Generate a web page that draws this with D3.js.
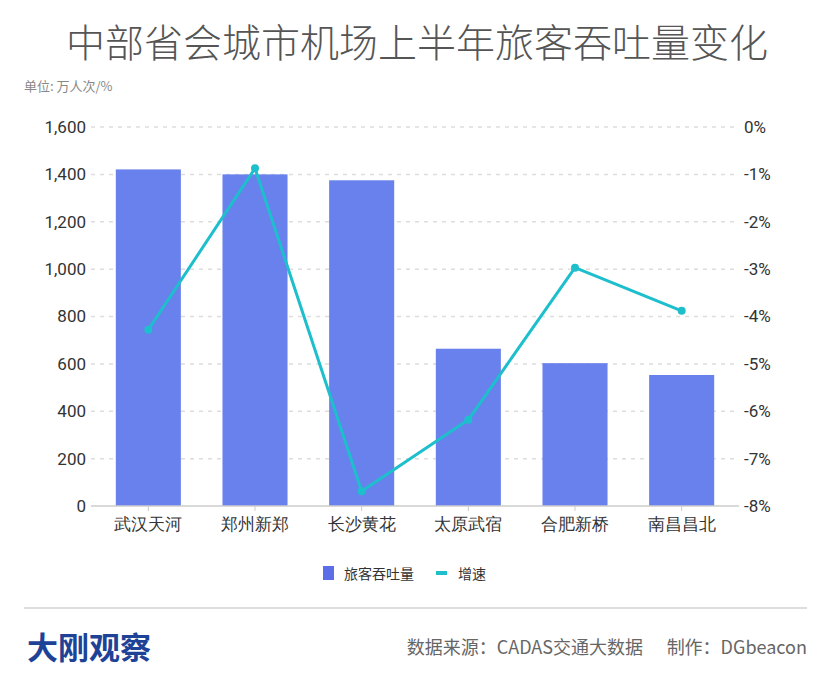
<!DOCTYPE html>
<html>
<head>
<meta charset="utf-8">
<script src="https://cdn.jsdelivr.net/npm/d3@7"></script>
<style>
  body { margin: 0; background: #fff; }
  svg { font-family: "Noto Sans CJK SC", "Noto Sans", sans-serif; }
</style>
</head>
<body>
<svg id="chart" width="832" height="684"></svg>
<script>
// data
const airports = ["武汉天河", "郑州新郑", "长沙黄花", "太原武宿", "合肥新桥", "南昌昌北"];
const passengers = [1421, 1400, 1375, 664, 603, 553];
const growth = [-4.28, -0.87, -7.69, -6.18, -2.97, -3.88];
const leftTicks = [0, 200, 400, 600, 800, 1000, 1200, 1400, 1600];
const rightTicks = [0, -1, -2, -3, -4, -5, -6, -7, -8];

const svg = d3.select("#chart");
const margin = {top: 127, left: 95, right: 97, bottom: 178};
const width = 832 - margin.left - margin.right;
const height = 684 - margin.top - margin.bottom;

const barColor = "#6981ec";
const lineColor = "#1dbfcc";

// title
svg.append("text")
    .attr("x", 417).attr("y", 57)
    .attr("text-anchor", "middle")
    .attr("font-size", 39)
    .attr("font-weight", 300)
    .attr("fill", "#555")
    .text("中部省会城市机场上半年旅客吞吐量变化");

svg.append("text")
    .attr("x", 24).attr("y", 91)
    .attr("font-size", 13)
    .attr("fill", "#888")
    .text("单位: 万人次/%");

const g = svg.append("g")
    .attr("transform", `translate(${margin.left},${margin.top})`);

const x = d3.scaleBand()
    .domain(airports)
    .range([0, width])
    .paddingInner(0.39)
    .paddingOuter(0.195);

const yLeft = d3.scaleLinear().domain([0, 1600]).range([height, 0]);
const yRight = d3.scaleLinear().domain([-8, 0]).range([height, 0]);

// gridlines
g.selectAll(".grid")
    .data(leftTicks.filter(d => d > 0))
    .enter().append("line")
    .attr("class", "grid")
    .attr("x1", -4).attr("x2", width + 4)
    .attr("y1", d => yLeft(d)).attr("y2", d => yLeft(d))
    .attr("stroke", "#ddd")
    .attr("stroke-width", 1.5)
    .attr("stroke-dasharray", "4,5");

// left axis
const leftAxis = g.append("g")
    .call(d3.axisLeft(yLeft).tickValues(leftTicks).tickFormat(d3.format(",")).tickSize(0).tickPadding(9));
leftAxis.select(".domain").remove();
leftAxis.selectAll("text").attr("font-size", 17).attr("fill", "#333")
    .attr("font-family", "Roboto, sans-serif");

// right axis
const rightAxis = g.append("g")
    .attr("transform", `translate(${width},0)`)
    .call(d3.axisRight(yRight).tickValues(rightTicks).tickFormat(d => d + "%").tickSize(0).tickPadding(9));
rightAxis.select(".domain").remove();
rightAxis.selectAll("text").attr("font-size", 17).attr("fill", "#333")
    .attr("font-family", "Roboto, sans-serif");

// bars
g.selectAll(".bar")
    .data(airports)
    .enter().append("rect")
    .attr("class", "bar")
    .attr("x", d => x(d))
    .attr("width", x.bandwidth())
    .attr("y", (d, i) => yLeft(passengers[i]))
    .attr("height", (d, i) => height - yLeft(passengers[i]))
    .attr("fill", barColor);

// x axis
const xAxis = g.append("g")
    .attr("transform", `translate(0,${height})`)
    .call(d3.axisBottom(x).tickSize(5).tickPadding(7));
xAxis.select(".domain").attr("stroke", "#ccc").attr("stroke-width", 1.5)
    .attr("d", `M-4,0H${width + 4}`);
xAxis.selectAll(".tick line").attr("stroke", "#ccc");
xAxis.selectAll("text").attr("font-size", 17).attr("fill", "#333");

// growth line
const line = d3.line()
    .x((d, i) => x(airports[i]) + x.bandwidth() / 2)
    .y(d => yRight(d));

g.append("path")
    .datum(growth)
    .attr("fill", "none")
    .attr("stroke", lineColor)
    .attr("stroke-width", 3)
    .attr("stroke-linejoin", "round")
    .attr("d", line);

g.selectAll(".dot")
    .data(growth)
    .enter().append("circle")
    .attr("class", "dot")
    .attr("cx", (d, i) => x(airports[i]) + x.bandwidth() / 2)
    .attr("cy", d => yRight(d))
    .attr("r", 4)
    .attr("fill", lineColor);

// legend
const legend = svg.append("g").attr("transform", "translate(0,573)");
legend.append("rect")
    .attr("x", 323).attr("y", -7).attr("width", 11).attr("height", 14)
    .attr("fill", "#5b6ee8");
legend.append("text")
    .attr("x", 344).attr("y", 6)
    .attr("font-size", 14).attr("fill", "#333")
    .text("旅客吞吐量");
legend.append("rect")
    .attr("x", 436).attr("y", -2).attr("width", 11).attr("height", 4)
    .attr("fill", lineColor);
legend.append("text")
    .attr("x", 458).attr("y", 6)
    .attr("font-size", 14).attr("fill", "#333")
    .text("增速");

// footer
svg.append("line")
    .attr("x1", 24).attr("x2", 807)
    .attr("y1", 608).attr("y2", 608)
    .attr("stroke", "#ddd").attr("stroke-width", 2);

svg.append("text")
    .attr("x", 27).attr("y", 659)
    .attr("font-size", 31)
    .attr("font-weight", "bold")
    .attr("fill", "#1d4296")
    .text("大刚观察");

svg.append("text")
    .attr("x", 807).attr("y", 654)
    .attr("text-anchor", "end")
    .attr("font-size", 18)
    .attr("fill", "#666")
    .text("制作：DGbeacon");

svg.append("text")
    .attr("x", 643).attr("y", 654)
    .attr("text-anchor", "end")
    .attr("font-size", 18)
    .attr("fill", "#666")
    .text("数据来源：CADAS交通大数据");
</script>
</body>
</html>
